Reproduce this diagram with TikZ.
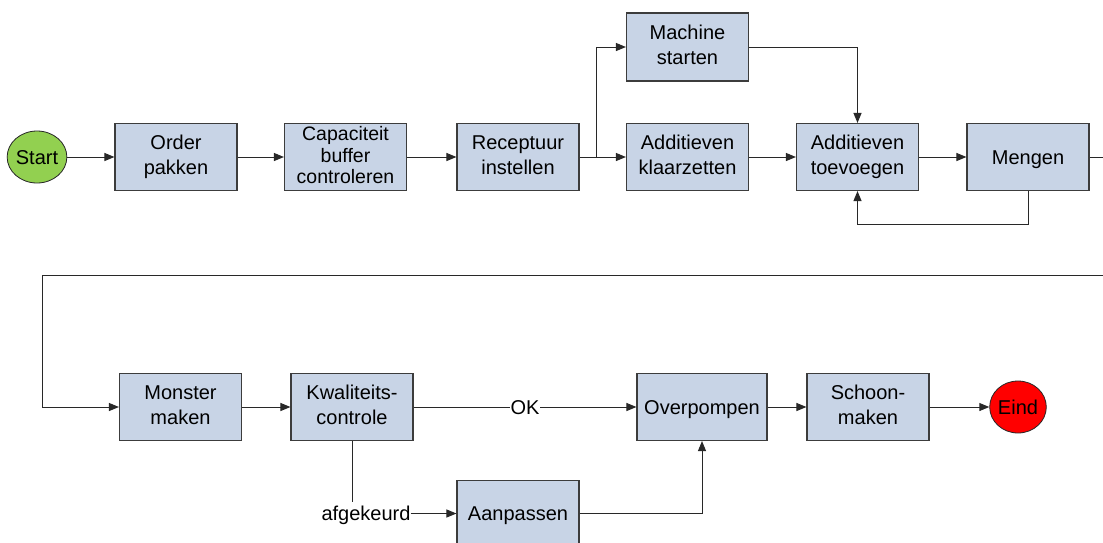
\documentclass[tikz,border=0pt]{standalone}
\usepackage{fontspec}
\setmainfont{Liberation Sans}
\usetikzlibrary{arrows.meta,shapes.geometric}
\definecolor{boxfill}{RGB}{200,212,230}
\definecolor{boxline}{RGB}{60,60,60}
\definecolor{startgreen}{RGB}{146,208,80}
\definecolor{endred}{RGB}{255,0,0}
\definecolor{wire}{RGB}{40,40,40}
% line strut: fixed ascent and descent so every text block sits centred on its caps
\newcommand\linestrut{\rule[-4pt]{0pt}{22.5pt}}
\begin{document}
\begin{tikzpicture}[x=1pt,y=-1pt,
  txt/.style={font=\fontsize{20}{25}\selectfont,
    execute at begin node=\linestrut, execute at end node=\linestrut},
  box/.style={txt, draw=boxline, line width=1.1pt, fill=boxfill,
    minimum width=122pt, minimum height=67pt, inner sep=0pt, align=center},
  dense/.style={font=\fontsize{19.5}{21.5}\selectfont},
  term/.style={txt, ellipse, draw=black!85, line width=0.8pt, inner sep=0pt},
  flow/.style={draw=wire, line width=1pt, -{Triangle[length=10pt,width=8pt]}},
  wireline/.style={draw=wire, line width=1pt},
  lbl/.style={txt, fill=white, inner sep=0.5pt}
]
\useasboundingbox (0,0) rectangle (1103,542);
\begin{scope}
\clip (0,0) rectangle (1103,542);

% first row
\node[term, fill=startgreen, minimum width=56pt, minimum height=52pt] (start) at (37,157) {Start};
\node[box] (order) at (176,157) {Order\\pakken};
\node[box, dense] (cap) at (345.5,157) {Capaciteit\\buffer\\controleren};
\node[box] (rec) at (518,157) {Receptuur\\instellen};
\node[box, minimum height=68pt] (mach) at (687.5,47) {Machine\\starten};
\node[box] (add) at (687.5,157) {Additieven\\klaarzetten};
\node[box] (toe) at (857.5,157) {Additieven\\toevoegen};
\node[box] (meng) at (1028,157) {Mengen};

% second row
\node[box] (monster) at (180.5,407) {Monster\\maken};
\node[box] (kwal) at (352,407) {Kwaliteits-\\controle};
\node[box, minimum width=130pt] (over) at (702,407) {Overpompen};
\node[box] (schoon) at (868,407) {Schoon-\\maken};
\node[term, fill=endred, minimum width=55pt, minimum height=52pt] (eind) at (1018,407) {Eind};
\node[box, minimum height=66pt] (aanp) at (518,513.5) {Aanpassen};
\node[txt, inner sep=0pt] (afg) at (366,513.5) {afgekeurd};

% connectors of the first row
\coordinate (split) at (596,157);
\draw[flow] (start) -- (order);
\draw[flow] (order) -- (cap);
\draw[flow] (cap) -- (rec);
\draw[flow] (rec) -- (add);
\draw[flow] (split) |- (mach.west);
\draw[flow] (mach.east) -| (toe.north);
\draw[flow] (add) -- (toe);
\draw[flow] (toe) -- (meng);
\draw[flow] (meng.south) -- ++(0,33) -| (toe.south);

% wrap-around from the first row to the second
\coordinate (wrap) at (42,275);
\draw[flow] (meng.east) -- ++(30,0) |- (wrap) |- (monster.west);

% connectors of the second row
\draw[flow] (monster) -- (kwal);
\draw[flow] (kwal) -- node[lbl] {OK} (over);
\draw[wireline] (kwal.south) -- (kwal.south |- afg.north);
\draw[flow] (afg.east) -- (aanp.west);
\draw[flow] (aanp.east) -| (over.south);
\draw[flow] (over) -- (schoon);
\draw[flow] (schoon) -- (eind);
\end{scope}
\end{tikzpicture}
\end{document}
